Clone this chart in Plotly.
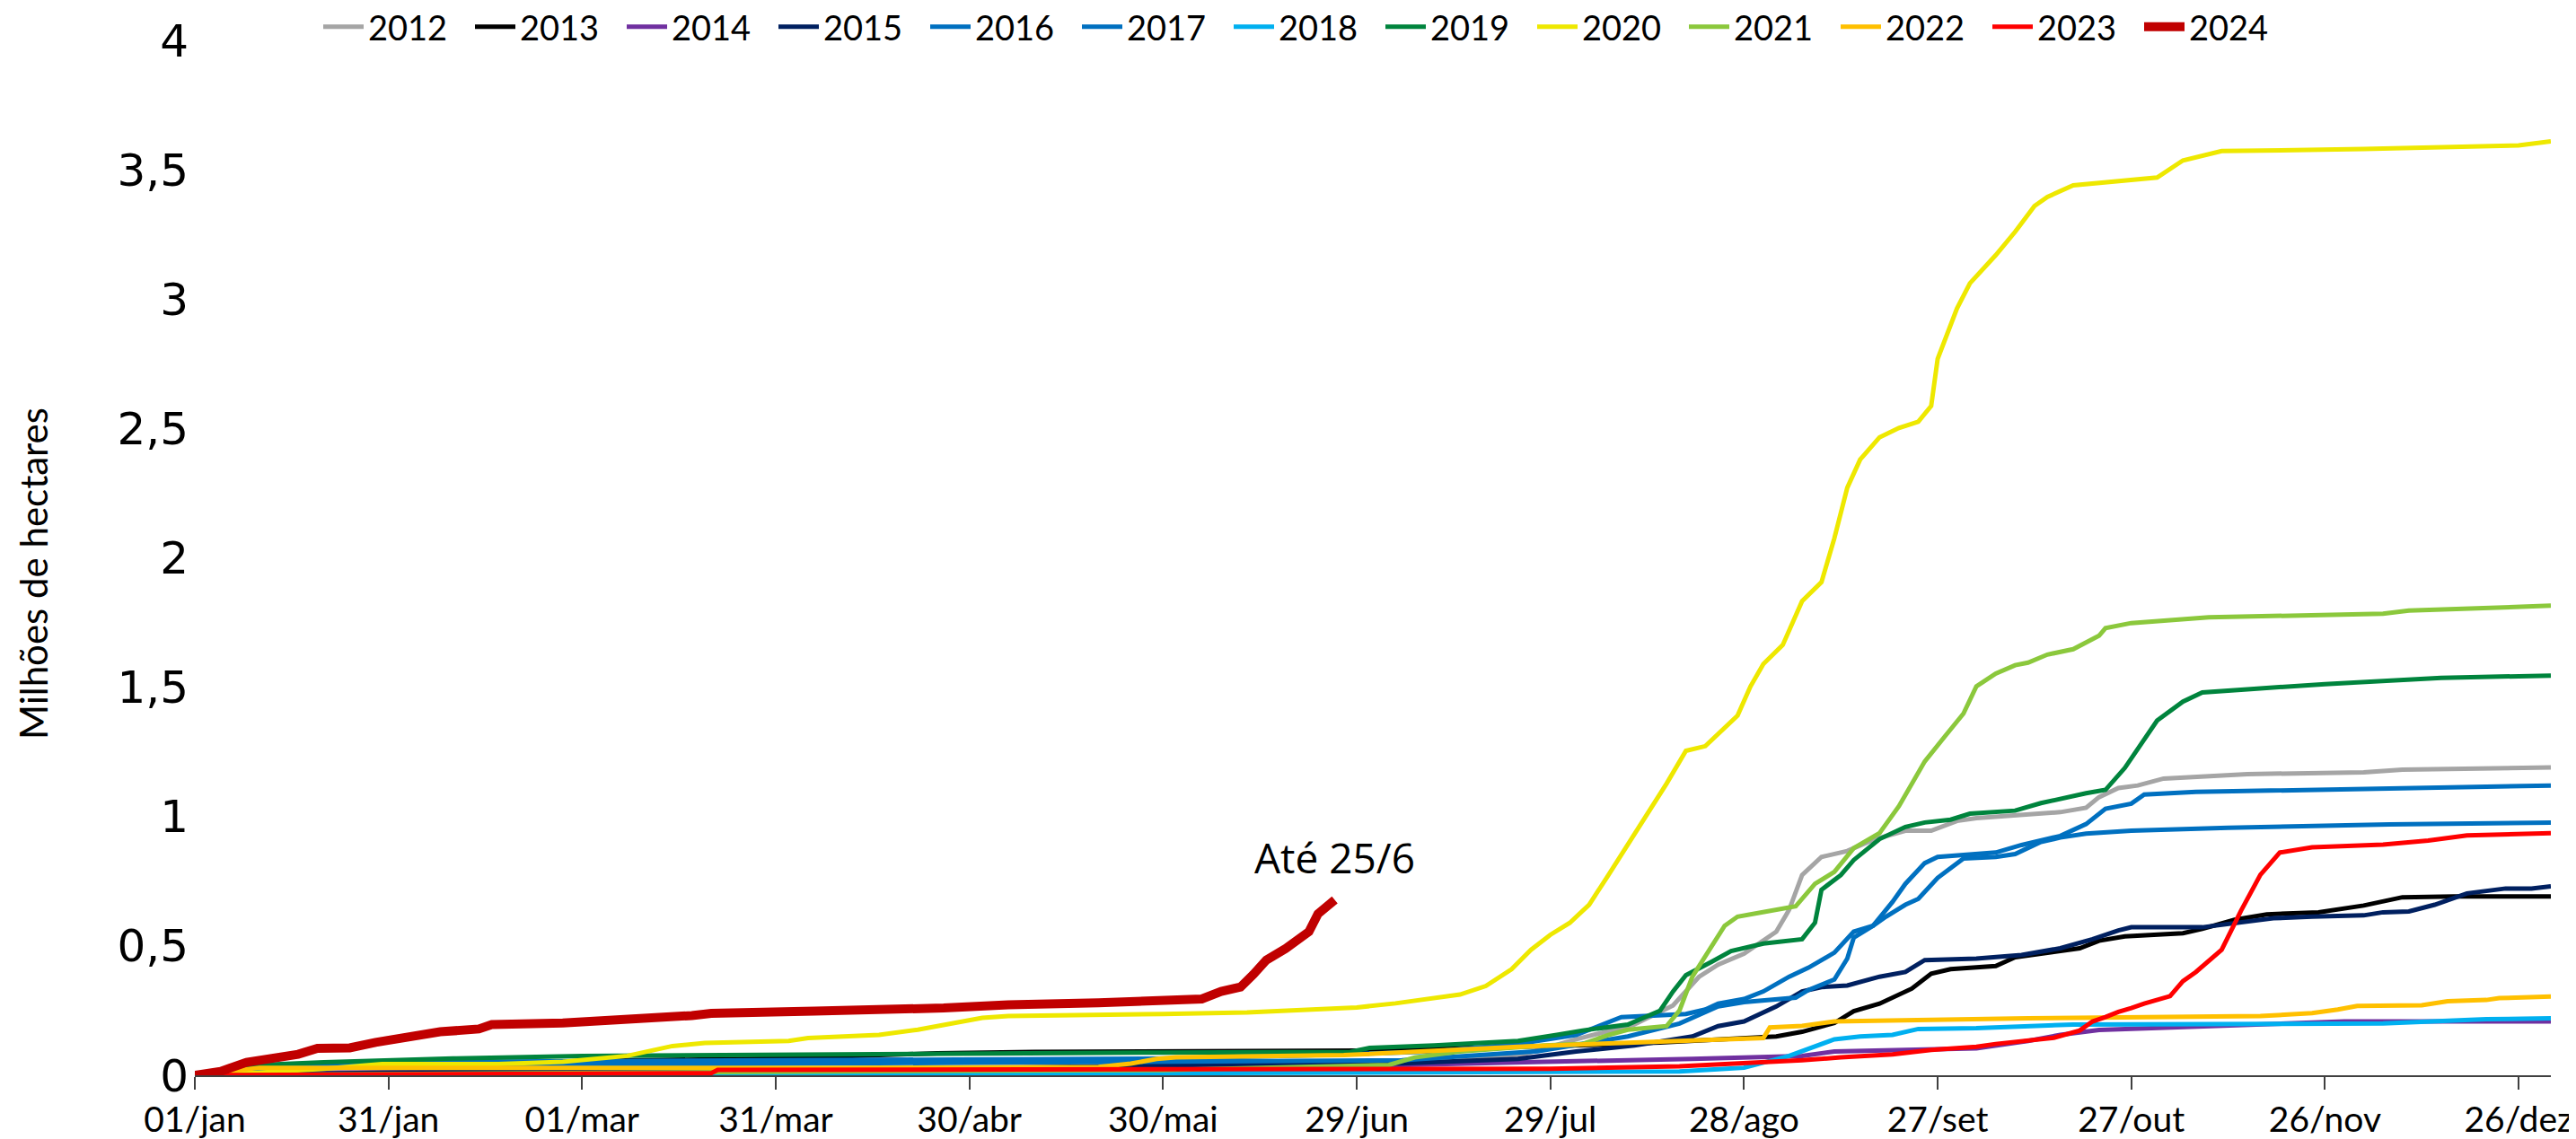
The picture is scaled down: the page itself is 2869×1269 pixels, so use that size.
import plotly.graph_objects as go

# ---- tick labels ----
x_tick_days = [0, 30, 60, 90, 120, 150, 180, 210, 240, 270, 300, 330, 360]
x_tick_labels = ["01/jan", "31/jan", "01/mar", "31/mar", "30/abr", "30/mai", "29/jun",
                 "29/jul", "28/ago", "27/set", "27/out", "26/nov", "26/dez"]
y_tick_vals = [0, 0.5, 1, 1.5, 2, 2.5, 3, 3.5, 4]
y_tick_labels = ["0", "0,5", "1", "1,5", "2", "2,5", "3", "3,5", "4"]

years = ["2012", "2013", "2014", "2015", "2016", "2017", "2018",
         "2019", "2020", "2021", "2022", "2023", "2024"]

# ---- series (day of year, cumulative burned area, million ha) ----
days_2012 = [0, 30, 60, 90, 120, 150, 180, 195, 205, 214, 223, 229, 233, 236, 240, 245, 247, 249, 252, 256, 260, 265, 269, 273, 276, 282, 289, 293, 295, 298, 301, 305, 318, 336, 342, 365]
vals_2012 = [0, 0.01, 0.02, 0.025, 0.03, 0.035, 0.045, 0.055, 0.075, 0.139, 0.196, 0.27, 0.38, 0.428, 0.47, 0.555, 0.64, 0.774, 0.844, 0.867, 0.91, 0.945, 0.945, 0.983, 0.994, 1.006, 1.017, 1.034, 1.075, 1.11, 1.12, 1.147, 1.164, 1.171, 1.181, 1.19]

days_2013 = [0, 10, 30, 60, 90, 105, 115, 130, 150, 180, 196, 214, 227, 240, 245, 249, 254, 257, 261, 266, 269, 272, 279, 282, 287, 292, 295, 299, 308, 311, 316, 321, 329, 336, 342, 350, 365]
vals_2013 = [0, 0.02, 0.04, 0.055, 0.065, 0.075, 0.085, 0.09, 0.092, 0.095, 0.105, 0.115, 0.127, 0.144, 0.15, 0.168, 0.202, 0.248, 0.277, 0.335, 0.393, 0.41, 0.422, 0.456, 0.474, 0.491, 0.52, 0.537, 0.549, 0.566, 0.601, 0.622, 0.63, 0.656, 0.688, 0.691, 0.691]

days_2014 = [0, 20, 60, 100, 150, 180, 195, 209, 232, 249, 254, 267, 276, 284, 289, 295, 306, 320, 333, 365]
vals_2014 = [0, 0.01, 0.015, 0.02, 0.025, 0.035, 0.045, 0.052, 0.063, 0.075, 0.092, 0.098, 0.104, 0.133, 0.156, 0.175, 0.185, 0.195, 0.208, 0.208]

days_2015 = [0, 30, 60, 100, 130, 152, 187, 205, 214, 223, 232, 236, 240, 245, 249, 252, 256, 261, 265, 268, 276, 283, 289, 294, 298, 300, 311, 315, 322, 328, 336, 339, 343, 347, 352, 358, 362, 365]
vals_2015 = [0, 0.01, 0.015, 0.02, 0.03, 0.04, 0.046, 0.063, 0.092, 0.115, 0.15, 0.19, 0.208, 0.266, 0.324, 0.341, 0.347, 0.381, 0.399, 0.445, 0.451, 0.465, 0.491, 0.526, 0.56, 0.572, 0.572, 0.584, 0.607, 0.613, 0.618, 0.63, 0.633, 0.659, 0.703, 0.722, 0.722, 0.73]

days_2016 = [0, 5, 10, 20, 40, 60, 90, 120, 152, 178, 192, 205, 214, 221, 227, 231, 234, 236, 240, 243, 247, 250, 254, 257, 260, 263, 265, 268, 270, 274, 279, 283, 286, 289, 293, 296, 300, 302, 310, 330, 365]
vals_2016 = [0, 0.02, 0.035, 0.045, 0.052, 0.055, 0.06, 0.062, 0.065, 0.081, 0.092, 0.121, 0.156, 0.225, 0.23, 0.237, 0.254, 0.277, 0.295, 0.324, 0.381, 0.416, 0.474, 0.555, 0.578, 0.67, 0.74, 0.82, 0.844, 0.85, 0.861, 0.89, 0.907, 0.925, 0.971, 1.03, 1.05, 1.085, 1.095, 1.105, 1.12]

days_2017 = [0, 5, 10, 30, 60, 100, 152, 187, 208, 222, 230, 236, 240, 248, 250, 254, 256, 257, 260, 262, 265, 267, 270, 274, 279, 282, 286, 289, 293, 296, 300, 315, 340, 365]
vals_2017 = [0, 0.01, 0.025, 0.035, 0.04, 0.045, 0.052, 0.058, 0.093, 0.15, 0.2, 0.266, 0.283, 0.3, 0.33, 0.37, 0.451, 0.532, 0.578, 0.613, 0.659, 0.682, 0.763, 0.838, 0.844, 0.855, 0.902, 0.919, 0.934, 0.94, 0.945, 0.957, 0.97, 0.977]

days_2018 = [0, 30, 90, 150, 200, 230, 236, 240, 247, 254, 258, 263, 267, 276, 291, 317, 339, 355, 365]
vals_2018 = [0, 0.003, 0.005, 0.008, 0.011, 0.015, 0.023, 0.029, 0.075, 0.139, 0.15, 0.156, 0.179, 0.182, 0.196, 0.196, 0.2, 0.217, 0.22]

days_2019 = [0, 5, 10, 20, 40, 60, 90, 120, 150, 179, 182, 192, 205, 211, 215, 222, 227, 229, 231, 235, 238, 243, 249, 251, 252, 255, 257, 261, 265, 268, 272, 275, 282, 286, 289, 293, 296, 299, 302, 304, 308, 311, 318, 330, 348, 365]
vals_2019 = [0, 0.02, 0.04, 0.05, 0.065, 0.075, 0.08, 0.085, 0.088, 0.09, 0.106, 0.115, 0.133, 0.156, 0.173, 0.196, 0.25, 0.324, 0.387, 0.439, 0.48, 0.509, 0.526, 0.59, 0.717, 0.774, 0.832, 0.913, 0.96, 0.977, 0.988, 1.011, 1.023, 1.052, 1.069, 1.09, 1.103, 1.188, 1.298, 1.371, 1.444, 1.48, 1.492, 1.512, 1.536, 1.545]

days_2020 = [0, 10, 20, 29, 47, 57, 67, 74, 79, 92, 95, 106, 112, 122, 126, 140, 150, 163, 180, 186, 196, 200, 204, 207, 210, 213, 216, 219, 222, 225, 228, 231, 234, 239, 241, 243, 246, 249, 252, 254, 256, 258, 261, 264, 267, 269, 270, 273, 275, 279, 282, 285, 287, 291, 300, 304, 308, 314, 336, 360, 365]
vals_2020 = [0, 0.01, 0.025, 0.043, 0.043, 0.052, 0.075, 0.113, 0.125, 0.133, 0.144, 0.156, 0.176, 0.222, 0.229, 0.232, 0.237, 0.243, 0.262, 0.278, 0.312, 0.345, 0.41, 0.485, 0.543, 0.589, 0.659, 0.774, 0.89, 1.005, 1.127, 1.254, 1.272, 1.39, 1.503, 1.59, 1.663, 1.833, 1.906, 2.076, 2.271, 2.38, 2.466, 2.502, 2.526, 2.587, 2.769, 2.964, 3.061, 3.17, 3.26, 3.36, 3.395, 3.44, 3.458, 3.47, 3.536, 3.572, 3.58, 3.594, 3.61]

days_2021 = [0, 30, 60, 100, 150, 178, 185, 189, 196, 209, 215, 219, 222, 228, 230, 232, 235, 237, 239, 243, 248, 251, 254, 257, 261, 264, 268, 271, 274, 276, 279, 282, 284, 287, 291, 295, 296, 300, 306, 312, 339, 343, 365]
vals_2021 = [0, 0.005, 0.01, 0.015, 0.02, 0.035, 0.04, 0.069, 0.092, 0.115, 0.121, 0.156, 0.176, 0.19, 0.25, 0.381, 0.497, 0.578, 0.613, 0.63, 0.653, 0.74, 0.786, 0.878, 0.936, 1.04, 1.213, 1.306, 1.398, 1.503, 1.553, 1.585, 1.595, 1.626, 1.647, 1.699, 1.728, 1.748, 1.76, 1.77, 1.784, 1.796, 1.815]

days_2022 = [0, 5, 10, 100, 140, 145, 149, 152, 178, 200, 205, 223, 243, 244, 249, 254, 267, 284, 320, 328, 332, 335, 345, 349, 355, 357, 365]
vals_2022 = [0, 0.015, 0.029, 0.029, 0.032, 0.045, 0.063, 0.069, 0.078, 0.104, 0.11, 0.127, 0.144, 0.185, 0.191, 0.208, 0.214, 0.22, 0.229, 0.24, 0.254, 0.268, 0.271, 0.286, 0.291, 0.298, 0.304]

days_2023 = [0, 80, 81, 150, 210, 230, 240, 249, 255, 263, 269, 276, 279, 284, 288, 292, 294, 296, 298, 300, 302, 306, 308, 310, 314, 317, 320, 323, 328, 339, 346, 352, 365]
vals_2023 = [0, 0.008, 0.021, 0.023, 0.025, 0.035, 0.046, 0.058, 0.069, 0.081, 0.098, 0.11, 0.121, 0.135, 0.145, 0.173, 0.208, 0.225, 0.245, 0.26, 0.277, 0.306, 0.364, 0.399, 0.485, 0.636, 0.775, 0.861, 0.881, 0.892, 0.907, 0.927, 0.936]

days_2024 = [0, 4, 8, 13, 16, 19, 24, 28, 33, 38, 44, 46, 57, 67, 77, 80, 92, 96, 116, 126, 140, 152, 156, 159, 162, 164, 166, 169, 171.7, 172.6, 174, 175.4, 176.6]
vals_2024 = [0, 0.015, 0.05, 0.067, 0.081, 0.104, 0.106, 0.127, 0.144, 0.168, 0.179, 0.196, 0.202, 0.214, 0.231, 0.239, 0.243, 0.248, 0.26, 0.272, 0.28, 0.29, 0.295, 0.324, 0.341, 0.39, 0.445, 0.49, 0.532, 0.555, 0.624, 0.659, 0.678]

annotation_text = "Até 25/6"
y_title = "Milhões de hectares"

series_days = [days_2012, days_2013, days_2014, days_2015, days_2016, days_2017, days_2018,
               days_2019, days_2020, days_2021, days_2022, days_2023, days_2024]
series_vals = [vals_2012, vals_2013, vals_2014, vals_2015, vals_2016, vals_2017, vals_2018,
               vals_2019, vals_2020, vals_2021, vals_2022, vals_2023, vals_2024]
colors = ["#A5A5A5", "#000000", "#7030A0", "#002060", "#0070C0", "#0070C0", "#00B0F0",
          "#00843D", "#EEE800", "#8BC83C", "#FFC000", "#FF0000", "#C00000"]
widths = [5, 5, 5, 5, 5, 5, 5, 5, 5, 5, 5, 5, 10]

fig = go.Figure()
for name, d, v, c, w in zip(years, series_days, series_vals, colors, widths):
    fig.add_trace(go.Scatter(x=d, y=v, mode="lines", name=name,
                             line=dict(color=c, width=w)))

W, H = 2869, 1269
L, R, T, B = 209, 36, 37, 79
pw = W - L - R
ph = H - T - B

fig.update_layout(
    width=W, height=H,
    margin=dict(l=L, r=R, t=T, b=B, autoexpand=False),
    plot_bgcolor="white", paper_bgcolor="white",
    showlegend=True,
    legend=dict(orientation="h", x=(347 - L) / pw, xanchor="left",
                y=(H - B - 22) / ph, yanchor="middle",
                font=dict(family="Lato", size=38, color="black"),
                itemwidth=45,
                entrywidth=109, entrywidthmode="pixels",
                bgcolor="rgba(0,0,0,0)", borderwidth=0, traceorder="normal"),
    xaxis=dict(range=[0, 365], tickvals=x_tick_days, ticktext=x_tick_labels,
               showgrid=False, zeroline=False, showline=True,
               linecolor="#404040", linewidth=2, ticks="outside", ticklen=14,
               tickwidth=2, tickcolor="#404040",
               tickfont=dict(family="Lato", size=39, color="black"),
               ticklabelstandoff=0),
    yaxis=dict(range=[0, 4], tickvals=y_tick_vals, ticktext=y_tick_labels,
               showgrid=False, zeroline=False, showline=False, ticks="",
               tickfont=dict(family="DejaVu Sans", size=50, color="black"),
               ticklabelstandoff=6),
    annotations=[
        dict(x=176.6, y=0.843, xref="x", yref="y", text=annotation_text,
             showarrow=False, xanchor="center", yanchor="middle",
             font=dict(family="Open Sans", size=46, color="black")),
        dict(x=(29 - L) / pw, y=(H - B - 631) / ph, xref="paper", yref="paper",
             text=y_title, textangle=-90, showarrow=False,
             xanchor="center", yanchor="middle",
             font=dict(family="Lato", size=42, color="black")),
    ],
)

fig.write_html("out.html")
